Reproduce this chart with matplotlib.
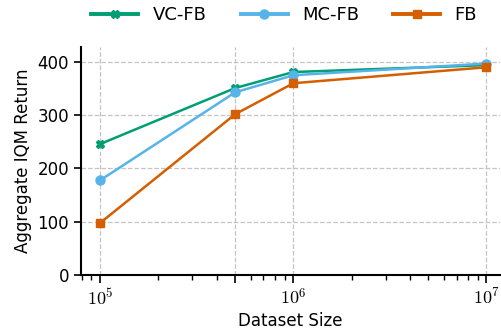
# aggregate IQM return vs dataset size for three FB variants

import numpy as np
import matplotlib.pyplot as plt

plt.rcParams['mathtext.fontset'] = 'cm'

sizes = [1e5, 5e5, 1e6, 1e7]
vc_fb = [246, 351, 381, 394]
mc_fb = [178, 343, 375, 397]
fb = [98, 302, 360, 390]

fig = plt.figure(figsize=(5.02, 3.33), dpi=100)
ax = fig.add_axes([81/502, 1-275/333, 419/502, 228/333])

ax.plot(sizes, vc_fb, color='#009E73', marker='X', markersize=6, linewidth=1.8, label='VC-FB')
ax.plot(sizes, mc_fb, color='#56B4E9', marker='o', markersize=6.5, linewidth=1.8, label='MC-FB')
ax.plot(sizes, fb, color='#D55E00', marker='s', markersize=6, linewidth=1.8, label='FB')

ax.set_xscale('log')
ax.set_xlim(10**4.90, 10**7.07)
ax.set_ylim(0, 428)
ax.set_xticks(sizes)
ax.set_xticklabels([r'$10^5$', '', r'$10^6$', r'$10^7$'], fontsize=13)
ax.set_yticks([0, 100, 200, 300, 400])
ax.tick_params(axis='y', labelsize=12, width=1.2, length=5)
ax.tick_params(axis='x', which='major', width=1.2, length=6)
ax.tick_params(axis='x', which='minor', width=1, length=3.5)

ax.grid(True, linestyle='--', color='#c4c4c4', linewidth=0.9)
ax.spines['top'].set_visible(False)
ax.spines['right'].set_visible(False)
ax.spines['left'].set_linewidth(1.5)
ax.spines['bottom'].set_linewidth(1.5)

ax.set_xlabel('Dataset Size', fontsize=12, labelpad=2)
ax.set_ylabel('Aggregate IQM Return', fontsize=12)

leg = fig.legend(loc='upper center', bbox_to_anchor=(0.566, 1.03), ncol=3, frameon=False,
                 fontsize=13, handlelength=2.6, handletextpad=0.8, columnspacing=1.9)
for line in leg.get_lines():
    line.set_linewidth(2.8)

fig.savefig('out.png')
